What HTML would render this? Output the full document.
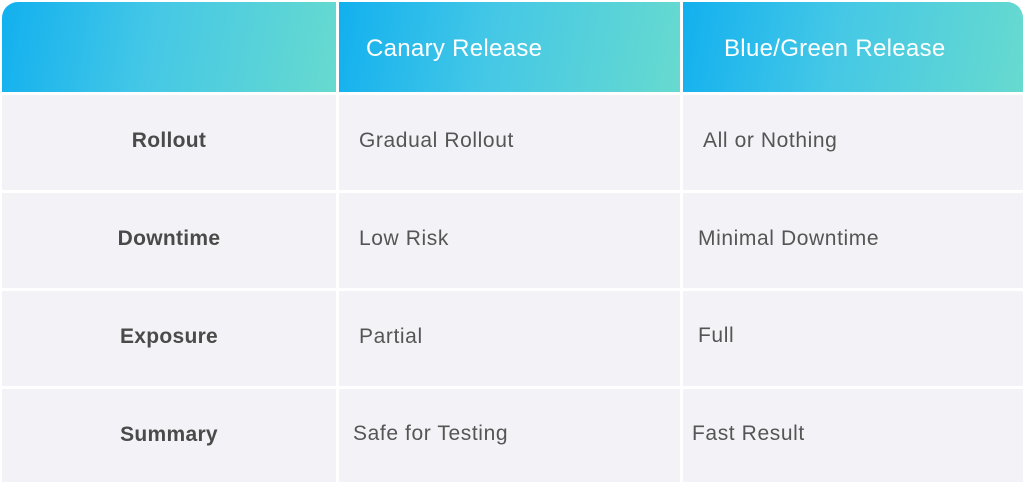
<!DOCTYPE html>
<html><head><style>
body{margin:0;width:1025px;height:482px;background:#fff;position:relative;overflow:hidden;font-family:"Liberation Sans",sans-serif;}
.c{position:absolute;background:#f3f2f6;}
.h{position:absolute;background:linear-gradient(100deg,#12b0ef 0%,#45c8e6 45%,#67dacf 100%);color:#fff;font-size:24px;letter-spacing:0.3px;}
.t{position:absolute;font-size:21px;letter-spacing:0.6px;color:#555;white-space:nowrap;}
.b{font-weight:bold;color:#4a4a4a;width:334px;text-align:center;left:2px;letter-spacing:0.3px;}
</style></head><body>
<div class="h" style="left:2px;top:2px;width:334px;height:90px;border-top-left-radius:16px"></div>
<div class="h" style="left:339px;top:2px;width:341px;height:90px"><span style="position:absolute;left:27px;top:33px">Canary Release</span></div>
<div class="h" style="left:683px;top:2px;width:340px;height:90px;border-top-right-radius:16px"><span style="position:absolute;left:41px;top:33px">Blue/Green Release</span></div>

<div class="c" style="left:2px;top:95px;width:334px;height:95px"></div>
<div class="c" style="left:339px;top:95px;width:341px;height:95px"></div>
<div class="c" style="left:683px;top:95px;width:340px;height:95px"></div>
<div class="c" style="left:2px;top:193px;width:334px;height:95px"></div>
<div class="c" style="left:339px;top:193px;width:341px;height:95px"></div>
<div class="c" style="left:683px;top:193px;width:340px;height:95px"></div>
<div class="c" style="left:2px;top:291px;width:334px;height:95px"></div>
<div class="c" style="left:339px;top:291px;width:341px;height:95px"></div>
<div class="c" style="left:683px;top:291px;width:340px;height:95px"></div>
<div class="c" style="left:2px;top:389px;width:334px;height:93px"></div>
<div class="c" style="left:339px;top:389px;width:341px;height:93px"></div>
<div class="c" style="left:683px;top:389px;width:340px;height:93px"></div>

<div class="t b" style="top:129px">Rollout</div>
<div class="t b" style="top:227px">Downtime</div>
<div class="t b" style="top:325px">Exposure</div>
<div class="t b" style="top:423px">Summary</div>

<div class="t" style="left:359px;top:129px">Gradual Rollout</div>
<div class="t" style="left:359px;top:227px">Low Risk</div>
<div class="t" style="left:359px;top:325px">Partial</div>
<div class="t" style="left:353px;top:422px">Safe for Testing</div>

<div class="t" style="left:703px;top:129px">All or Nothing</div>
<div class="t" style="left:698px;top:227px">Minimal Downtime</div>
<div class="t" style="left:698px;top:324px">Full</div>
<div class="t" style="left:692px;top:422px">Fast Result</div>
</body></html>
